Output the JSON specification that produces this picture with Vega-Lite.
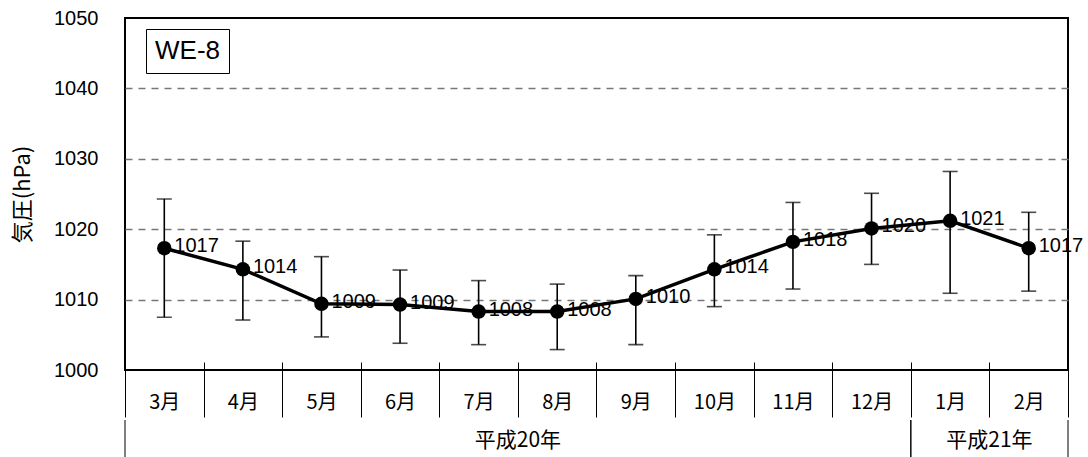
{
  "$schema": "https://vega.github.io/schema/vega-lite/v6.json",
  "padding": {"left": 10, "top": 7, "right": 0, "bottom": 0},
  "background": "white",
  "config": {
    "view": {"stroke": null},
    "font": "Liberation Sans",
    "concat": {"spacing": 0}
  },
  "datasets": {
    "pressure": [
      {"month": "3月", "station": "WE-8", "mean": 1017.3, "lo": 1007.5, "hi": 1024.3},
      {"month": "4月", "station": "WE-8", "mean": 1014.3, "lo": 1007.1, "hi": 1018.3},
      {"month": "5月", "station": "WE-8", "mean": 1009.4, "lo": 1004.7, "hi": 1016.1},
      {"month": "6月", "station": "WE-8", "mean": 1009.3, "lo": 1003.8, "hi": 1014.2},
      {"month": "7月", "station": "WE-8", "mean": 1008.3, "lo": 1003.6, "hi": 1012.7},
      {"month": "8月", "station": "WE-8", "mean": 1008.3, "lo": 1002.9, "hi": 1012.2},
      {"month": "9月", "station": "WE-8", "mean": 1010.1, "lo": 1003.6, "hi": 1013.4},
      {"month": "10月", "station": "WE-8", "mean": 1014.3, "lo": 1009.0, "hi": 1019.2},
      {"month": "11月", "station": "WE-8", "mean": 1018.2, "lo": 1011.5, "hi": 1023.8},
      {"month": "12月", "station": "WE-8", "mean": 1020.1, "lo": 1015.0, "hi": 1025.1},
      {"month": "1月", "station": "WE-8", "mean": 1021.2, "lo": 1010.9, "hi": 1028.2},
      {"month": "2月", "station": "WE-8", "mean": 1017.3, "lo": 1011.2, "hi": 1022.4}
    ],
    "years": [
      {"year": "平成20年", "start": 0, "end": 10},
      {"year": "平成21年", "start": 10, "end": 12}
    ]
  },
  "resolve": {"scale": {"x": "independent"}},
  "vconcat": [
    {
      "width": 943,
      "height": 352,
      "view": {"stroke": "black", "strokeWidth": 2},
      "data": {"name": "pressure"},
      "encoding": {
        "x": {
          "field": "month",
          "type": "nominal",
          "sort": null,
          "scale": {
            "domain": ["3月", "4月", "5月", "6月", "7月", "8月", "9月", "10月", "11月", "12月", "1月", "2月"],
            "paddingInner": 0,
            "paddingOuter": 0
          },
          "axis": {
            "title": null,
            "orient": "bottom",
            "offset": -8,
            "domain": false,
            "ticks": true,
            "tickBand": "extent",
            "tickSize": 55,
            "tickColor": "black",
            "tickWidth": 1,
            "labelAngle": 0,
            "labelBaseline": "middle",
            "labelPadding": -15,
            "labelFont": "Noto Sans CJK JP",
            "labelFontSize": 20,
            "labelColor": "black",
            "grid": false
          }
        }
      },
      "layer": [
        {
          "mark": {"type": "rule", "strokeWidth": 1.6, "color": "black"},
          "encoding": {
            "y": {
              "field": "lo",
              "type": "quantitative",
              "scale": {"domain": [1000, 1050], "nice": false, "zero": false},
              "axis": {
                "title": "気圧(hPa)",
                "titleFont": "Noto Sans CJK JP",
                "titleFontSize": 22,
                "titleFontWeight": "normal",
                "titleColor": "black",
                "titlePadding": 19,
                "values": [1000, 1010, 1020, 1030, 1040, 1050],
                "format": "d",
                "labelFontSize": 20,
                "labelColor": "black",
                "labelPadding": 27,
                "ticks": false,
                "domain": false,
                "grid": true,
                "gridDash": [7, 6],
                "gridColor": "#777777",
                "gridWidth": 1.5,
                "gridOpacity": {"condition": {"test": "datum.value === 1000 || datum.value === 1050", "value": 0}, "value": 1}
              }
            },
            "y2": {"field": "hi"}
          }
        },
        {
          "mark": {"type": "tick", "orient": "horizontal", "size": 15, "thickness": 1.6, "color": "black"},
          "encoding": {"y": {"field": "lo", "type": "quantitative"}}
        },
        {
          "mark": {"type": "tick", "orient": "horizontal", "size": 15, "thickness": 1.6, "color": "black"},
          "encoding": {"y": {"field": "hi", "type": "quantitative"}}
        },
        {
          "mark": {"type": "line", "strokeWidth": 3.5, "color": "black"},
          "encoding": {"y": {"field": "mean", "type": "quantitative"}}
        },
        {
          "mark": {"type": "circle", "size": 210, "opacity": 1},
          "encoding": {
            "y": {"field": "mean", "type": "quantitative"},
            "color": {
              "field": "station",
              "type": "nominal",
              "scale": {"range": ["black"]},
              "legend": {
                "orient": "none",
                "legendX": 21,
                "legendY": 11,
                "title": null,
                "strokeColor": "black",
                "fillColor": "white",
                "padding": 9,
                "symbolType": "circle",
                "symbolOpacity": 0,
                "symbolSize": 0,
                "symbolStrokeWidth": 0,
                "labelOffset": -26,
                "labelFont": "Liberation Sans",
                "labelFontSize": 26,
                "labelColor": "black"
              }
            }
          }
        },
        {
          "mark": {"type": "text", "align": "left", "baseline": "middle", "dx": 10, "dy": -2, "fontSize": 20, "color": "black"},
          "encoding": {
            "y": {"field": "mean", "type": "quantitative"},
            "text": {"field": "mean", "type": "quantitative", "format": ".0f"}
          }
        }
      ]
    },
    {
      "width": 943,
      "height": 41,
      "data": {"name": "years"},
      "layer": [
        {
          "mark": {"type": "rule", "strokeWidth": 1, "color": "black"},
          "encoding": {
            "x": {"field": "start", "type": "quantitative", "scale": {"domain": [0, 12], "nice": false, "zero": false}, "axis": null}
          }
        },
        {
          "mark": {"type": "rule", "strokeWidth": 1, "color": "black"},
          "encoding": {
            "x": {"field": "end", "type": "quantitative"}
          }
        },
        {
          "transform": [
            {"fold": ["start", "end"], "as": ["edge", "pos"]}
          ],
          "mark": {"type": "text", "font": "Noto Sans CJK JP", "fontSize": 21, "color": "black", "baseline": "middle"},
          "encoding": {
            "x": {"field": "pos", "aggregate": "mean", "type": "quantitative"},
            "text": {"field": "year", "type": "nominal"}
          }
        }
      ]
    }
  ]
}
